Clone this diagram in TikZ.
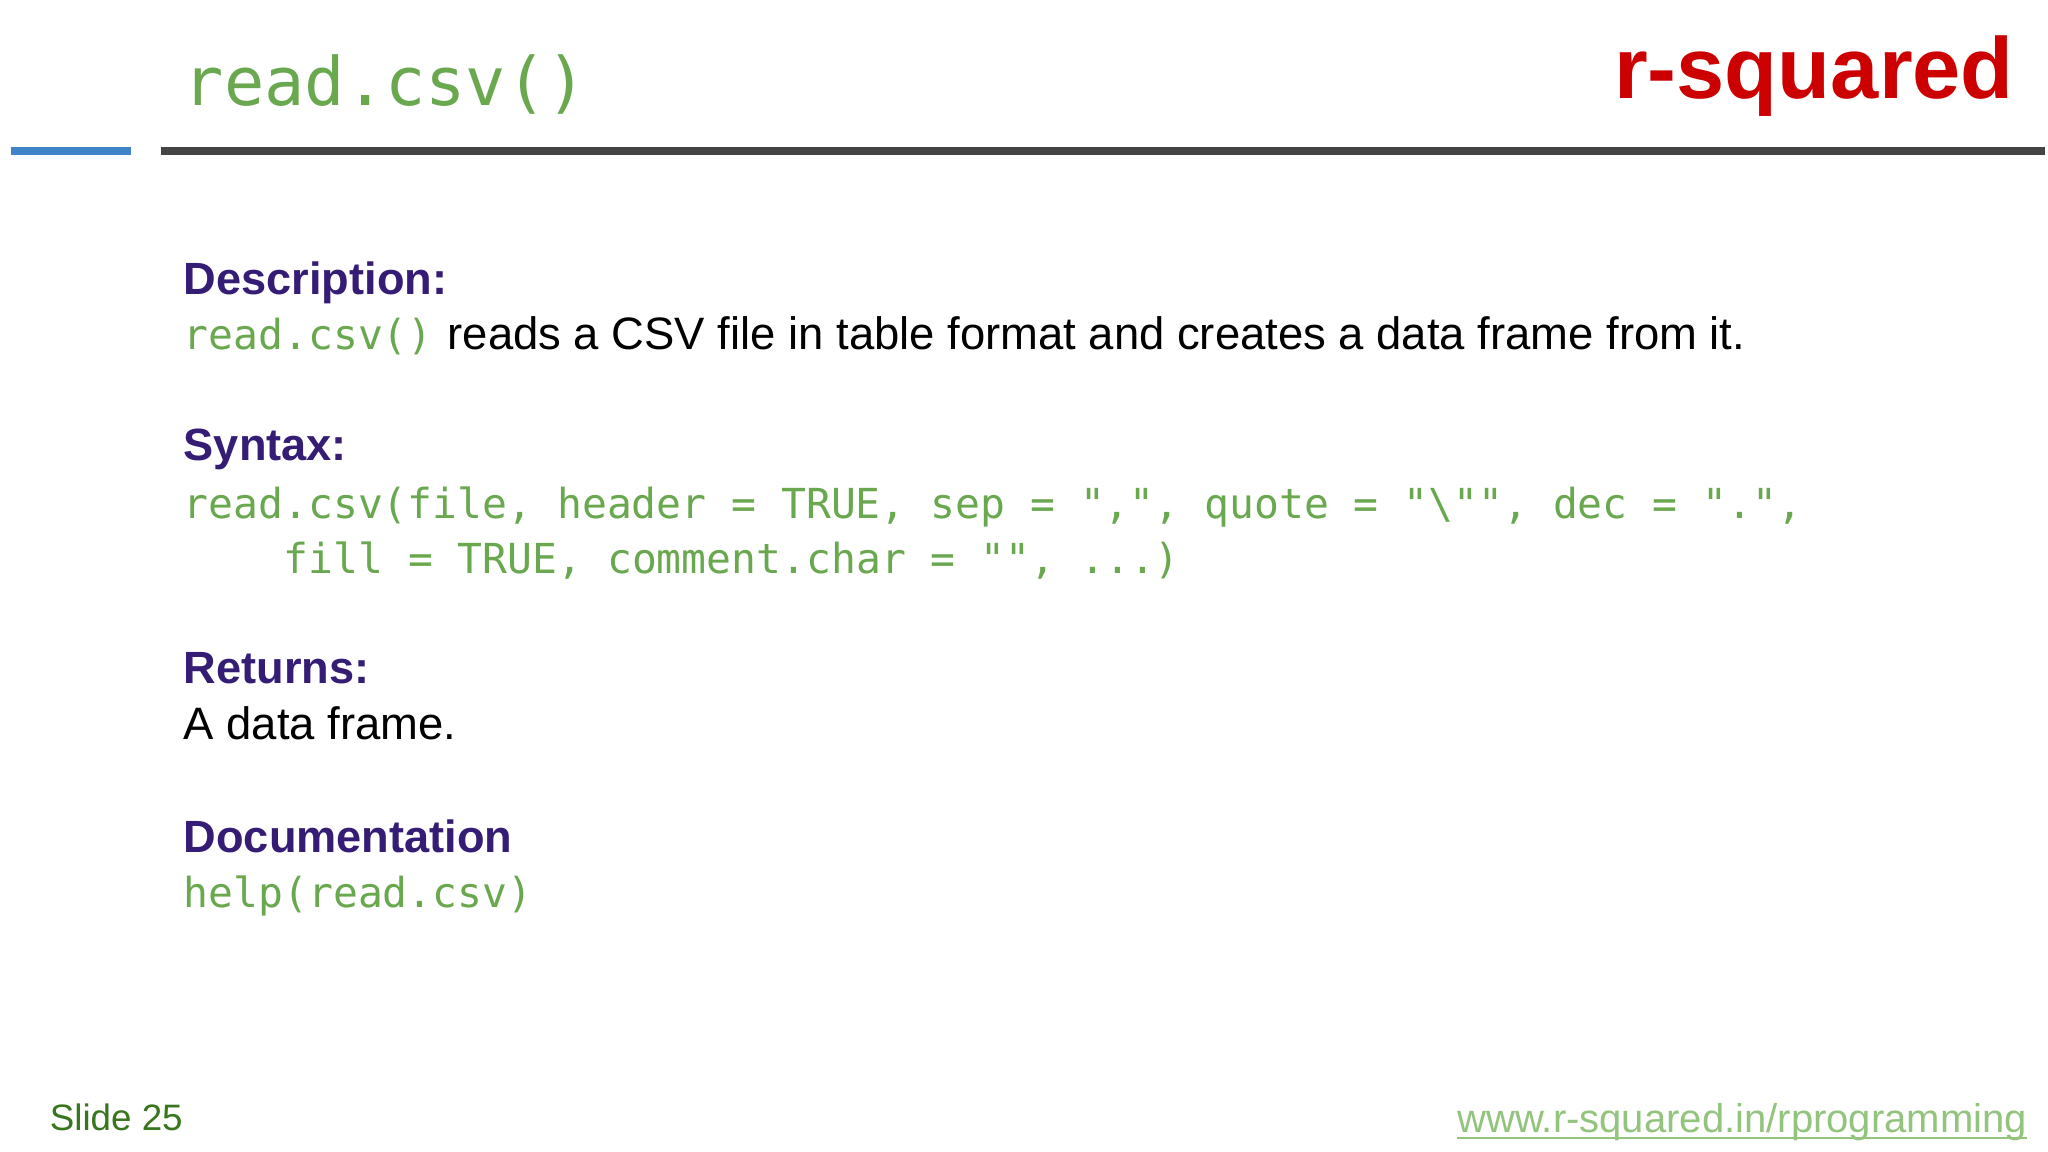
\documentclass[tikz,border=0pt]{standalone}
\usepackage{fontspec}
\setmainfont{Liberation Sans}
\newfontfamily\codefont{DejaVu Sans Mono}
\definecolor{codegreen}{HTML}{6AA84F}
\definecolor{headpurple}{HTML}{351C75}
\definecolor{rred}{HTML}{CC0000}
\definecolor{barblue}{HTML}{3D85C6}
\definecolor{bargray}{HTML}{444444}
\definecolor{slidegreen}{HTML}{38761D}
\definecolor{urlgreen}{HTML}{93C47D}
\begin{document}
\begin{tikzpicture}[x=1pt,y=1pt,
  txt/.style={anchor=base west,inner sep=0pt,outer sep=0pt},
  head/.style={txt,font=\fontsize{34.4}{40}\selectfont\bfseries,text=headpurple},
  body/.style={txt,font=\fontsize{34.6}{40}\selectfont},
  code/.style={txt,font=\fontsize{31.5}{38}\selectfont\codefont,text=codegreen}]
\useasboundingbox[fill=white] (0,0) rectangle (1560,-877.5);
\node[txt,font=\fontsize{51}{60}\selectfont\codefont,text=codegreen] (title) at (140,-80) {read.csv()};
\node[txt,anchor=base east,font=\fontsize{66}{76}\selectfont\bfseries,text=rred] (logo) at (1534,-75) {r-squared};
\draw[barblue,line width=6] (8,-115) -- (100,-115);
\draw[bargray,line width=6] (123,-115) -- (1558,-115);
\node[head] (desc) at (140,-224) {Description:};
\node[code] (dcode) at (140,-266) {read.csv()};
\node[body] (dtext) at (341,-266) {reads a CSV file in table format and creates a data frame from it.};
\node[head] (syn) at (140,-351) {Syntax:};
\node[code] (s1) at (140,-395) {read.csv(file, header = TRUE, sep = ",", quote = "\textbackslash"", dec = ".",};
\node[code] (s2) at (216,-437) {fill = TRUE, comment.char = "", ...)};
\node[head] (ret) at (140,-521) {Returns:};
\node[body] (rtext) at (140,-563) {A data frame.};
\node[head] (doc) at (140,-649) {Documentation};
\node[code] (help) at (140,-691) {help(read.csv)};
\node[txt,font=\fontsize{28}{33}\selectfont,text=slidegreen] (slide) at (38,-861) {Slide 25};
\node[txt,anchor=base east,font=\fontsize{30.5}{36}\selectfont,text=urlgreen] (url) at (1544,-863) {www.r-squared.in/rprogramming};
\draw[urlgreen,line width=1.5] (url.base west) ++(0,-4) -- ([yshift=-4]url.base east);
\end{tikzpicture}
\end{document}
